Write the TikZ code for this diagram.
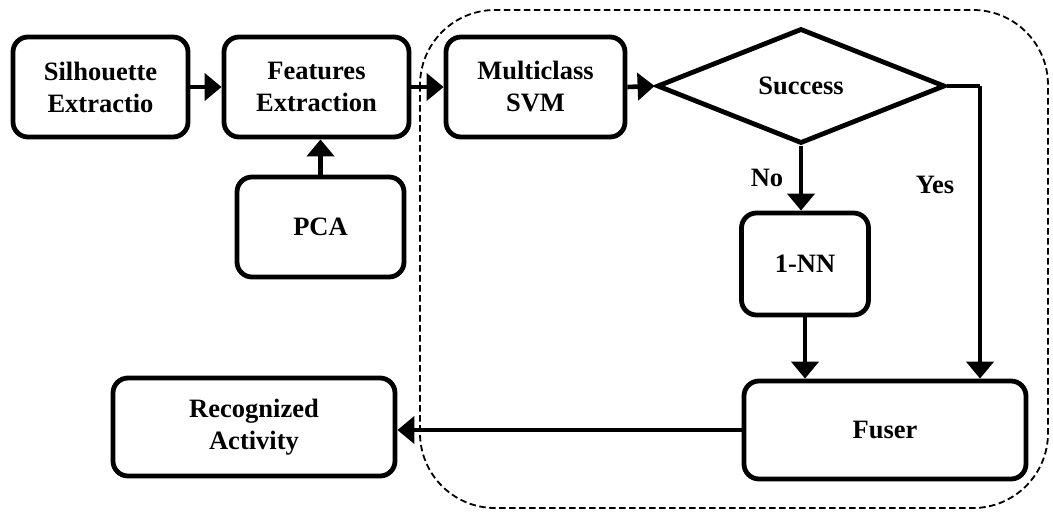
\documentclass[tikz,border=0pt]{standalone}
\usepackage{fontspec}
\setmainfont{Liberation Serif}
\usetikzlibrary{arrows.meta,shapes.geometric}
\tikzset{
  blk/.style={draw, line width=4.8pt, rounded corners=15pt, align=center,
    inner sep=0pt, font=\fontsize{26.5}{32}\selectfont\bfseries},
  dec/.style={draw, shape=diamond, line width=4.8pt, inner sep=0pt,
    minimum width=288pt, minimum height=115pt, aspect=2.48,
    font=\fontsize{26.5}{32}\selectfont\bfseries},
  lbl/.style={font=\fontsize{26.5}{32}\selectfont\bfseries, inner sep=0pt},
  flow/.style={line width=4.6pt, -{Triangle[width=27pt,length=17pt]}},
  plain/.style={line width=4.6pt},
  group/.style={draw, dash pattern=on 6.5pt off 3.5pt, line width=1.8pt, rounded corners=75pt}
}
\begin{document}
\begin{tikzpicture}[x=1pt,y=-1pt]
\useasboundingbox (0,0) rectangle (1053,512);

% processing blocks
\node[blk, minimum width=175pt, minimum height=100pt] (sil) at (100.5,87) {Silhouette\\Extractio};
\node[blk, minimum width=185pt, minimum height=100pt] (feat) at (316.5,87) {Features\\Extraction};
\node[blk, minimum width=167pt, minimum height=100pt] (pca) at (320.5,227) {PCA};
\node[blk, minimum width=179pt, minimum height=100pt] (svm) at (535.5,87) {Multiclass\\SVM};
\node[dec] (succ) at (801,86) {Success};
\node[blk, minimum width=127pt, minimum height=102pt] (nn) at (805,264) {1-NN};
\node[blk, minimum width=282pt, minimum height=98pt] (fuser) at (885,430) {Fuser};
\node[blk, minimum width=282pt, minimum height=98pt] (recog) at (254,427) {Recognized\\Activity};

% grouping frame around the classifier stage
\draw[group] (420,10) rectangle (1048,508);

% connectors
\draw[flow] (sil.east) -- (feat.west);
\draw[flow] (pca.north) -- (feat.south -| pca.north);
\draw[flow] (feat.east) -- (svm.west);
\draw[flow] (svm.east) -- (succ.west);
\draw[flow] (succ.south) -- (succ.south |- nn.north);
\coordinate (yesx) at (980,86);
\draw[plain] (succ.east) -- (yesx);
\draw[flow] (yesx) -- (yesx |- fuser.north);
\draw[flow] (nn.south) -- (nn.south |- fuser.north);
\draw[flow] (fuser.west) -- (fuser.west -| recog.east);

% branch labels
\node[lbl] (no) at (767,178) {No};
\node[lbl] (yes) at (935,185) {Yes};
\end{tikzpicture}
\end{document}
